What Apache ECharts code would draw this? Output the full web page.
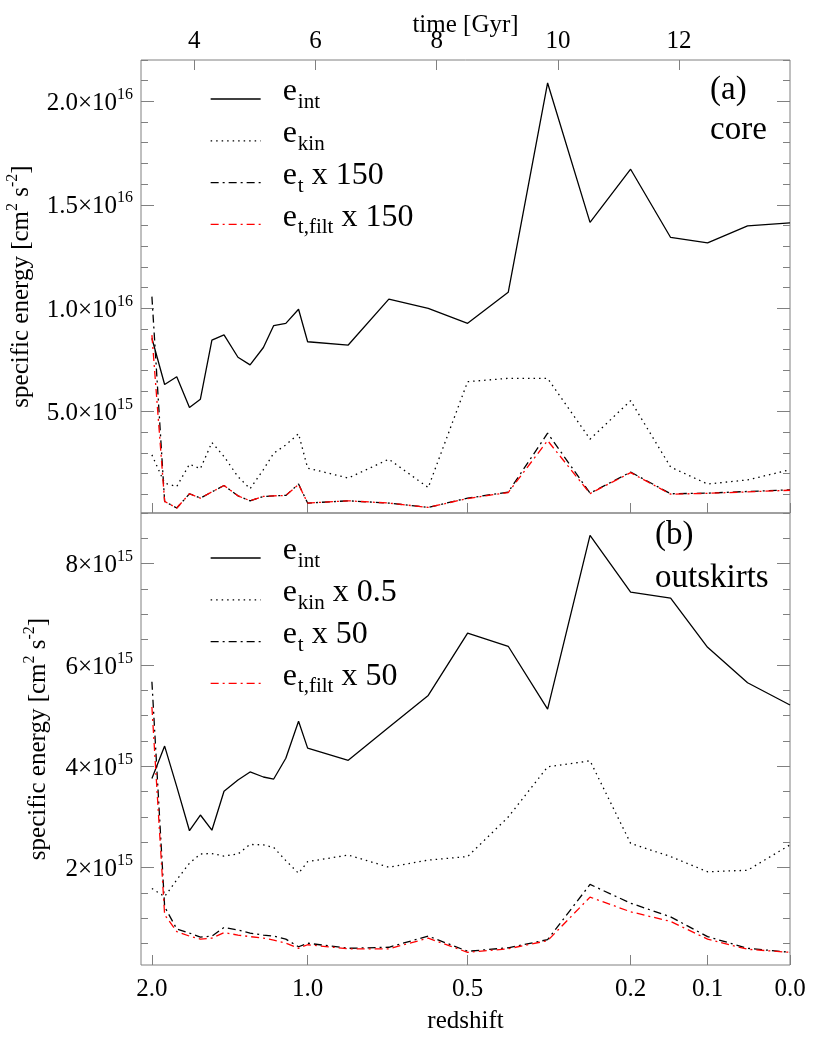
<!DOCTYPE html>
<html>
<head>
<meta charset="utf-8">
<script src="https://cdn.jsdelivr.net/npm/echarts@6/dist/echarts.min.js"></script>
<style>
  html, body { margin: 0; padding: 0; background: #fff; }
  #chart { width: 830px; height: 1053px; }
</style>
</head>
<body>
<div id="chart"></div>
<script>
// cosmic time of each snapshot [Gyr]
const times = [3.30, 3.51, 3.71, 3.92, 4.10, 4.29, 4.49, 4.72, 4.92, 5.14, 5.31, 5.51, 5.72,
               5.87, 6.54, 7.21, 7.86, 8.51, 9.18, 9.83, 10.53, 11.20, 11.86, 12.47, 13.13, 13.83];

// (a) core, units of 1e15 cm^2 s^-2
const coreInt = [8.55, 6.31, 6.69, 5.20, 5.60, 8.46, 8.71, 7.63, 7.26, 8.10, 9.16, 9.27, 9.95,
                 8.38, 8.22, 10.44, 9.99, 9.27, 10.77, 20.89, 14.15, 16.72, 13.42, 13.16, 13.98, 14.13];
const coreKin = [2.91, 1.54, 1.38, 2.46, 2.24, 3.51, 2.83, 1.86, 1.27, 2.20, 2.99, 3.39, 3.93,
                 2.27, 1.79, 2.70, 1.33, 6.45, 6.61, 6.61, 3.67, 5.53, 2.32, 1.50, 1.70, 2.19];
const coreTurb = [10.56, 0.66, 0.34, 1.03, 0.82, 1.12, 1.43, 0.93, 0.69, 0.90, 0.93, 0.95, 1.50,
                  0.58, 0.69, 0.58, 0.37, 0.82, 1.11, 3.96, 1.06, 2.08, 1.03, 1.06, 1.14, 1.22];
const coreTurbFilt = [8.70, 0.66, 0.34, 1.03, 0.82, 1.12, 1.43, 0.93, 0.69, 0.90, 0.93, 0.95, 1.48,
                      0.58, 0.69, 0.58, 0.37, 0.80, 1.09, 3.60, 1.04, 2.05, 1.01, 1.05, 1.12, 1.20];

// (b) outskirts, units of 1e15 cm^2 s^-2
const outInt = [3.76, 4.40, 3.60, 2.73, 3.04, 2.74, 3.51, 3.73, 3.89, 3.79, 3.75, 4.16, 4.89,
                4.36, 4.12, 4.77, 5.40, 6.63, 6.37, 5.13, 8.56, 7.44, 7.32, 6.35, 5.65, 5.21];
const outKinHalf = [1.59, 1.43, 1.76, 2.09, 2.27, 2.28, 2.23, 2.27, 2.46, 2.45, 2.40, 2.14, 1.89,
                    2.12, 2.25, 2.01, 2.15, 2.22, 3.00, 3.99, 4.11, 2.48, 2.22, 1.92, 1.95, 2.45];
const outTurb = [5.67, 1.23, 0.79, 0.71, 0.63, 0.65, 0.82, 0.77, 0.71, 0.67, 0.65, 0.59, 0.44,
                 0.51, 0.41, 0.43, 0.65, 0.35, 0.42, 0.58, 1.67, 1.30, 1.03, 0.64, 0.41, 0.33];
const outTurbFilt = [5.17, 1.07, 0.74, 0.65, 0.59, 0.61, 0.72, 0.67, 0.64, 0.61, 0.57, 0.51, 0.41,
                     0.48, 0.40, 0.40, 0.61, 0.33, 0.40, 0.56, 1.42, 1.13, 0.94, 0.59, 0.39, 0.33];

// axes
const timeRange = [3.12, 13.83];
const timeTicks = [4, 6, 8, 10, 12];
const zTimes = [3.30, 5.87, 8.51, 11.20, 12.47, 13.83];
const zLabels = ['2.0', '1.0', '0.5', '0.2', '0.1', '0.0'];

const coreRange = [0.1, 22.0];
const coreTicks = [5, 10, 15, 20];
const coreMant = ['5.0', '1.0', '1.5', '2.0'];
const coreExp = ['15', '16', '16', '16'];

const outRange = [0.08, 9.0];
const outTicks = [2, 4, 6, 8];
const outMant = ['2', '4', '6', '8'];
const outExp = ['15', '15', '15', '15'];

const coreNames = ['a_int', 'a_kin', 'a_t', 'a_tf'];
const coreLegend = [['int', ''], ['kin', ''], ['t', ' x 150'], ['t,filt', ' x 150']];
const outNames = ['b_int', 'b_kin', 'b_t', 'b_tf'];
const outLegend = [['int', ''], ['kin', ' x 0.5'], ['t', ' x 50'], ['t,filt', ' x 50']];

const FONT = '"Liberation Serif", "DejaVu Serif", serif';
const GRAY = '#808080';
const DOT = [1.5, 4];
const DASHDOT = [8, 4, 2, 4];

const coreMinor = [];
for (let v = 1; v <= 22; v++) if (v % 5 !== 0) coreMinor.push(v);
const outMinor = [];
for (let v = 0.5; v <= 9; v += 0.5) if (v % 2 !== 0) outMinor.push(v);

function idx(arr, v) {
  let best = 0;
  arr.forEach((a, i) => { if (Math.abs(a - v) < Math.abs(arr[best] - v)) best = i; });
  return best;
}

const supRich = {
  m: { fontSize: 25, fontFamily: FONT, color: '#000', padding: [4, 0, 0, 0], verticalAlign: 'bottom' },
  e: { fontSize: 16, fontFamily: FONT, color: '#000', verticalAlign: 'top' }
};

function yAxis(grid, range, pos, ticks, major, opt) {
  const ax = {
    gridIndex: grid, type: 'value', position: pos, min: range[0], max: range[1],
    axisLine: { show: false }, splitLine: { show: false },
    axisTick: { inside: true, length: major ? 13 : 7, customValues: ticks, lineStyle: { color: GRAY } },
    axisLabel: { show: false }
  };
  return Object.assign(ax, opt || {});
}

function sciLabel(ticks, mant, exp) {
  return {
    show: true, customValues: ticks, margin: 8, rich: supRich,
    formatter: v => { const i = idx(ticks, v); return '{m|' + mant[i] + '×10}{e|' + exp[i] + '}'; }
  };
}

const yName = '{m|specific energy [cm}{e|2}{m| s}{e|-2}{m|]}';
const yNameStyle = { rich: supRich };

function line(name, data, xi, yi, color, type) {
  return {
    type: 'line', name: name, xAxisIndex: xi, yAxisIndex: yi,
    data: times.map((t, i) => [t, data[i]]),
    symbol: 'none', silent: true, animation: false,
    lineStyle: { color: color, width: 1.3, type: type },
    itemStyle: { color: color }
  };
}

const legendRich = {
  m: { fontSize: 32, fontFamily: FONT, color: '#000', lineHeight: 32, verticalAlign: 'top' },
  s: { fontSize: 21, fontFamily: FONT, color: '#000', lineHeight: 21, verticalAlign: 'top', padding: [16, 0, 0, 1] }
};

function legend(names, texts, top) {
  return {
    data: names, orient: 'vertical', left: 210, top: top, padding: 0,
    itemWidth: 50, itemHeight: 10, itemGap: 4.8, selectedMode: false,
    icon: 'inherit', itemStyle: { opacity: 0 },
    formatter: n => { const t = texts[names.indexOf(n)]; return '{m|e}{s|' + t[0] + '}' + (t[1] ? '{m|' + t[1] + '}' : ''); },
    textStyle: { rich: legendRich, padding: [0, 0, 14, 17] },
    lineStyle: { width: 1.3 }
  };
}

const xLabelStyle = { fontSize: 25, fontFamily: FONT, color: '#000' };
const titleStyle = { fontSize: 25, fontFamily: FONT, color: '#000' };

const chart = echarts.init(document.getElementById('chart'), null, { renderer: 'canvas' });
chart.setOption({
  backgroundColor: '#fff',
  animation: false,
  grid: [
    { left: 141, top: 60, width: 649, height: 453, show: true, borderColor: GRAY, borderWidth: 1, outerBoundsMode: 'none' },
    { left: 141, top: 513, width: 649, height: 452, show: true, borderColor: GRAY, borderWidth: 1, outerBoundsMode: 'none' }
  ],
  xAxis: [
    {
      gridIndex: 0, type: 'value', position: 'top', min: timeRange[0], max: timeRange[1],
      axisLine: { show: false }, splitLine: { show: false },
      axisTick: { inside: true, length: 10, customValues: timeTicks, lineStyle: { color: GRAY } },
      axisLabel: Object.assign({ customValues: timeTicks, margin: 6, formatter: v => String(v) }, xLabelStyle),
      name: 'time [Gyr]', nameLocation: 'middle', nameGap: 22, nameMoveOverlap: false, nameTextStyle: titleStyle
    },
    {
      gridIndex: 0, type: 'value', position: 'bottom', min: timeRange[0], max: timeRange[1],
      axisLine: { show: false }, splitLine: { show: false },
      axisTick: { inside: true, length: 10, customValues: zTimes, lineStyle: { color: GRAY } },
      axisLabel: { show: false }
    },
    {
      gridIndex: 1, type: 'value', position: 'bottom', min: timeRange[0], max: timeRange[1],
      axisLine: { show: false }, splitLine: { show: false },
      axisTick: { inside: true, length: 10, customValues: zTimes, lineStyle: { color: GRAY } },
      axisLabel: Object.assign({ customValues: zTimes, margin: 12, formatter: v => zLabels[idx(zTimes, v)] }, xLabelStyle),
      name: 'redshift', nameLocation: 'middle', nameGap: 44, nameTextStyle: titleStyle
    }
  ],
  yAxis: [
    yAxis(0, coreRange, 'left', coreTicks, true, {
      axisLabel: sciLabel(coreTicks, coreMant, coreExp),
      name: yName, nameLocation: 'middle', nameGap: 107, nameTextStyle: yNameStyle
    }),
    yAxis(0, coreRange, 'left', coreMinor, false),
    yAxis(0, coreRange, 'right', coreTicks, true),
    yAxis(0, coreRange, 'right', coreMinor, false),
    yAxis(1, outRange, 'left', outTicks, true, {
      axisLabel: sciLabel(outTicks, outMant, outExp),
      name: yName, nameLocation: 'middle', nameGap: 90, nameTextStyle: yNameStyle
    }),
    yAxis(1, outRange, 'left', outMinor, false),
    yAxis(1, outRange, 'right', outTicks, true),
    yAxis(1, outRange, 'right', outMinor, false)
  ],
  legend: [legend(coreNames, coreLegend, 76), legend(outNames, outLegend, 535)],
  graphic: [
    { type: 'text', left: 710, top: 74, style: { text: '(a)', fontSize: 33, fontFamily: FONT, fill: '#000' } },
    { type: 'text', left: 710, top: 114, style: { text: 'core', fontSize: 33, fontFamily: FONT, fill: '#000' } },
    { type: 'text', left: 655, top: 519, style: { text: '(b)', fontSize: 33, fontFamily: FONT, fill: '#000' } },
    { type: 'text', left: 655, top: 562, style: { text: 'outskirts', fontSize: 33, fontFamily: FONT, fill: '#000' } }
  ],
  series: [
    line('a_int', coreInt, 0, 0, '#000', 'solid'),
    line('a_kin', coreKin, 0, 0, '#000', DOT),
    line('a_t', coreTurb, 0, 0, '#000', DASHDOT),
    line('a_tf', coreTurbFilt, 0, 0, '#ff0000', DASHDOT),
    line('b_int', outInt, 2, 4, '#000', 'solid'),
    line('b_kin', outKinHalf, 2, 4, '#000', DOT),
    line('b_t', outTurb, 2, 4, '#000', DASHDOT),
    line('b_tf', outTurbFilt, 2, 4, '#ff0000', DASHDOT)
  ]
});
window.addEventListener('resize', () => chart.resize());
</script>
</body>
</html>
